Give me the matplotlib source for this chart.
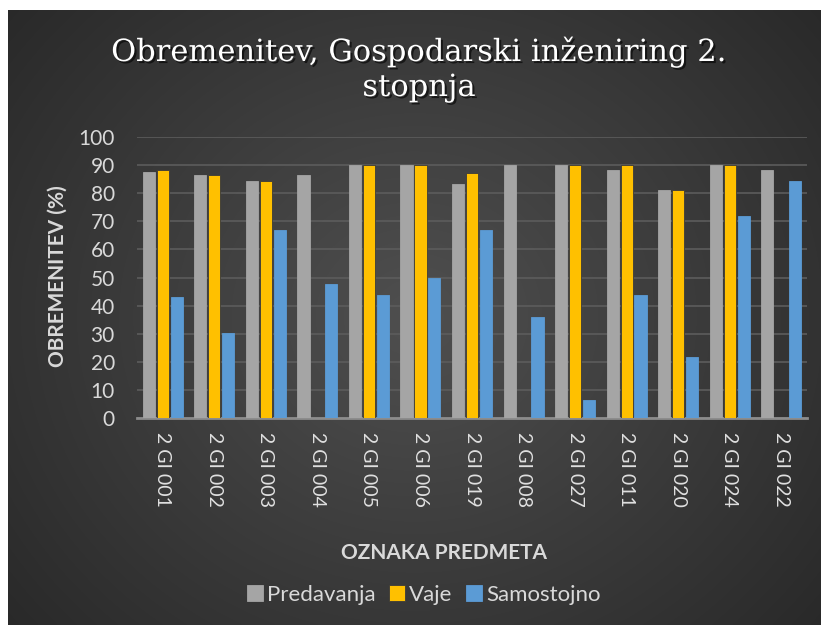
import numpy as np
import matplotlib.pyplot as plt
import matplotlib.patheffects as pe

courses = ["2 GI 001", "2 GI 002", "2 GI 003", "2 GI 004", "2 GI 005", "2 GI 006", "2 GI 019",
           "2 GI 008", "2 GI 027", "2 GI 011", "2 GI 020", "2 GI 024", "2 GI 022"]
predavanja = [87.5, 86.3, 84.4, 86.3, 90, 90, 83.3, 90, 90, 88.2, 81.3, 90, 88.2]
vaje = [88.2, 86.3, 84.4, 0, 90, 90, 87.3, 0, 90, 90, 81.3, 90, 0]
samostojno = [42.9, 30.3, 66.9, 47.7, 43.9, 49.8, 66.9, 36.1, 6.4, 43.9, 21.6, 71.9, 84.3]

series = [("Predavanja", predavanja, "#a5a5a5"),
          ("Vaje", vaje, "#ffc000"),
          ("Samostojno", samostojno, "#5b9bd5")]

fig = plt.figure(figsize=(8.21, 6.25), dpi=100)
fig.patch.set_facecolor("white")

# dark radial background (thin white strip top/left like the screenshot)
bg = fig.add_axes([8 / 821, 0, 1 - 8 / 821, 615 / 625])
yy, xx = np.mgrid[0:1:300j, 0:1:400j]
r = np.sqrt(((xx - 0.5) / 0.75) ** 2 + ((yy - 0.5) / 0.9) ** 2)
shade = 0.31 - 0.17 * np.clip(r, 0, 1)
bg.imshow(np.dstack([shade] * 3), aspect="auto", extent=[0, 1, 0, 1], interpolation="bilinear")
bg.axis("off")

ax = fig.add_axes([137 / 821, 1 - 418 / 625, 670 / 821, 281 / 625])
ax.set_facecolor("none")

x = np.arange(len(courses))
w = 0.235
offs = [-0.27, 0.0, 0.27]
for (name, vals, col), o in zip(series, offs):
    ax.bar(x + o, vals, w, color=col, label=name, zorder=3,
           edgecolor="#3a3a3a" if name == "Vaje" else col, linewidth=0.6)

ax.set_xlim(-0.5, len(courses) - 0.5)
ax.set_ylim(0, 100)
ax.set_yticks(range(0, 101, 10))
ax.grid(axis="y", color="#5c5c5c", linewidth=1.2, zorder=0)
for s in ["top", "right", "left"]:
    ax.spines[s].set_visible(False)
ax.spines["bottom"].set_color("#8c8c8c")
ax.spines["bottom"].set_linewidth(2)
ax.tick_params(length=0, colors="#d9d9d9")
ax.set_xticks(x)
ax.set_xticklabels(courses, rotation=270, fontsize=14, family="Lato", color="#e0e0e0")
for lab in ax.get_yticklabels():
    lab.set_fontsize(15)
    lab.set_family("Lato")
ax.tick_params(axis="y", pad=16)
ax.tick_params(axis="x", pad=10)

fig.text(58 / 821, 1 - 276 / 625, "OBREMENITEV (%)", rotation=90, ha="center", va="center",
         fontsize=15, fontweight="bold", family="Lato", color="#d9d9d9")
fig.text(444 / 821, 1 - 553 / 625, "OZNAKA PREDMETA", ha="center", va="center",
         fontsize=15, fontweight="bold", family="Lato", color="#d9d9d9")

shadow = [pe.withSimplePatchShadow(offset=(1.5, -1.5), shadow_rgbFace="black", alpha=0.6)]
fig.text(419 / 821, 1 - 61 / 625, "Obremenitev, Gospodarski inženiring 2.", ha="center",
         va="baseline", fontsize=22, family="DejaVu Serif", color="white", path_effects=shadow)
fig.text(419 / 821, 1 - 96 / 625, "stopnja", ha="center",
         va="baseline", fontsize=22, family="DejaVu Serif", color="white", path_effects=shadow)

leg = fig.legend(loc="center", bbox_to_anchor=(424 / 821, 1 - 595 / 625), ncol=3, frameon=False,
                 handlelength=0.7, handleheight=0.7, handletextpad=0.2,
                 columnspacing=0.6, prop={"family": "Lato", "size": 16})
for t in leg.get_texts():
    t.set_color("#d9d9d9")

fig.savefig("out.png", dpi=100)
